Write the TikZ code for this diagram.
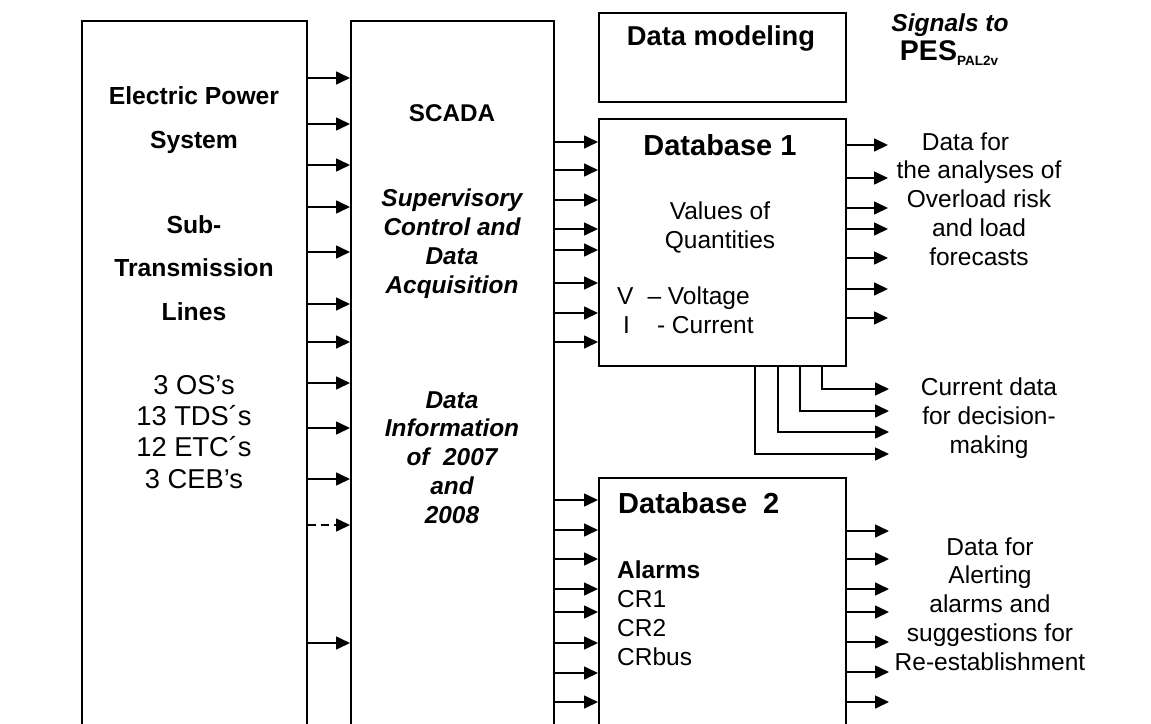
\documentclass[tikz,border=0pt]{standalone}
\usepackage{fontspec}
\setmainfont{Liberation Sans}
\usetikzlibrary{arrows.meta}
\begin{document}
\begin{tikzpicture}[x=1pt,y=-1pt,
		box/.style={draw,line width=1.6pt,anchor=north west,inner sep=0pt},
		arr/.style={line width=1.6pt,-{Triangle[length=14pt,width=13pt]}},
		lbl/.style={anchor=base,align=center,inner sep=0pt,font=\fontsize{24.5}{28.7}\selectfont},
		hd/.style={lbl,font=\fontsize{24.7}{43.5}\selectfont\bfseries},
		sub/.style={lbl,font=\fontsize{27.3}{31.2}\selectfont},
		emph/.style={lbl,font=\fontsize{24.4}{28.7}\selectfont\bfseries\itshape},
		dbtitle/.style={lbl,font=\fontsize{29}{32}\selectfont\bfseries},
	]
	\useasboundingbox (0,0) rectangle (1151,723);
	\clip (0,0) rectangle (1151,723);
	\node[box,minimum width=225pt,minimum height=760pt] (eps) at (81,20) {};
	\node[box,minimum width=203pt,minimum height=760pt] (scada) at (350,20) {};
	\node[box,minimum width=247pt,minimum height=89pt] (model) at (598,12) {};
	\node[box,minimum width=247pt,minimum height=247pt] (db1) at (598,118) {};
	\node[box,minimum width=247pt,minimum height=300pt] (db2) at (598,477) {};
	\coordinate (out1) at (888,0);
	\coordinate (out2) at (889,0);

	\node[hd] (epsname) at (194,148) {Electric Power\\System};
	\node[hd] (lines) at (194,320) {Sub-\\Transmission\\Lines};
	\node[sub] (units) at (194,488) {3 OS’s\\13 TDS´s\\12 ETC´s\\3 CEB’s};
	\node[lbl,font=\fontsize{24.2}{28}\selectfont\bfseries] (scadaname) at (452,121) {SCADA};
	\node[emph] (scadafull) at (452,293) {Supervisory\\Control and\\Data\\Acquisition};
	\node[emph] (years) at (452,523) {Data\\Information\\of\ \ 2007\\and\\2008};
	\node[lbl,font=\fontsize{27.3}{30}\selectfont\bfseries] (modelname) at (721,45) {Data modeling};
	\node[emph,font=\fontsize{24.5}{28}\selectfont\bfseries\itshape] (signals) at (950,31) {Signals to};
	\node[lbl,font=\fontsize{28.5}{30}\selectfont\bfseries] (pes) at (949,60) {PES\raisebox{-5pt}{\fontsize{13.5}{14}\selectfont PAL2v}};
	\node[dbtitle] (db1name) at (720,155) {Database 1};
	\node[lbl] (values) at (720,248) {Values of\\Quantities};
	\node[lbl,anchor=base west,align=left] (quant) at (617,333) {V\hspace{14pt}– Voltage\\\hspace*{6pt}I\hspace{27pt}- Current};
	\node[dbtitle,anchor=base west] (db2name) at (618,513) {Database\ \ 2};
	\node[lbl,anchor=base west,align=left] (alarms) at (617,665) {\textbf{Alarms}\\CR1\\CR2\\CRbus};
	\node[lbl] (analyses) at (979,265) {Data for\hspace*{27pt}\\the analyses of\\Overload risk\\and load\\forecasts};
	\node[lbl] (decision) at (989,453) {Current data\\for decision-\\making};
	\node[lbl] (alerting) at (990,670) {Data for\\Alerting\\alarms and\\suggestions for\\Re-establishment};

	\foreach \y in {78,124,165,207,252,304,342,383,428,479,643}
		\draw[arr] (eps.east |- 0,\y) -- (scada.west |- 0,\y);
	\draw[arr,dash pattern=on 8pt off 5pt] (eps.east |- 0,525) -- (scada.west |- 0,525);
	\foreach \y in {142,170,200,229,250,283,313,342}
		\draw[arr] (scada.east |- 0,\y) -- (db1.west |- 0,\y);
	\foreach \y in {500,530,559,589,612,643,673,702}
		\draw[arr] (scada.east |- 0,\y) -- (db2.west |- 0,\y);
	\foreach \y in {145,178,208,229,258,289,318}
		\draw[arr] (db1.east |- 0,\y) -- (out1 |- 0,\y);
	\foreach \x/\y in {755/454,778/432,800/411,822/389}
		\draw[arr] (db1.south -| \x,0) |- (out2 |- 0,\y);
	\foreach \y in {531,559,589,612,642,672,702}
		\draw[arr] (db2.east |- 0,\y) -- (out2 |- 0,\y);
\end{tikzpicture}
\end{document}
